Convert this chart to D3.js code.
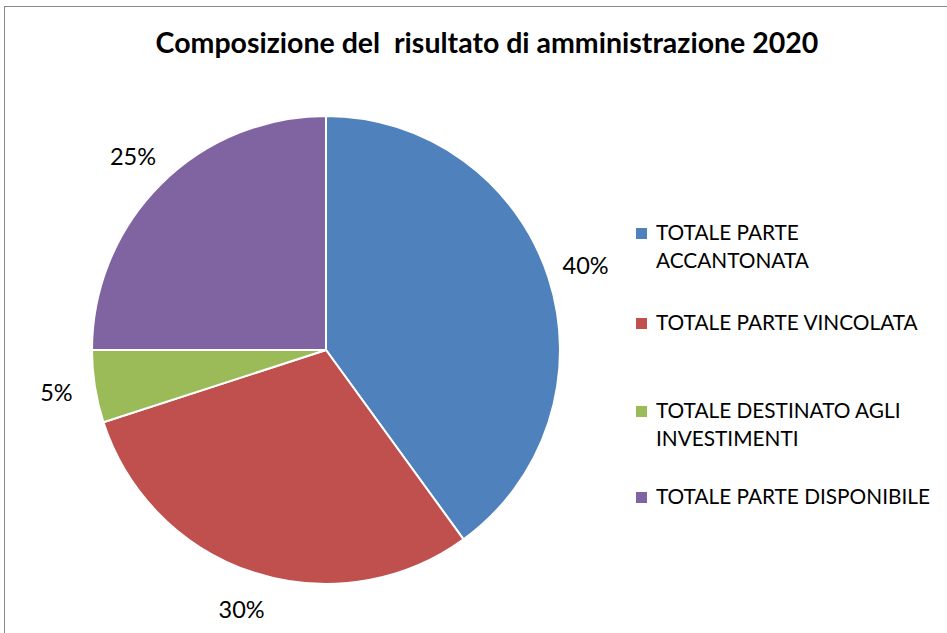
<!DOCTYPE html>
<html>
<head>
<meta charset="utf-8">
<script src="https://cdn.jsdelivr.net/npm/d3@7"></script>
<style>
  body { margin: 0; background: #fff; }
  text { font-family: Lato, "Open Sans", sans-serif; fill: #000; }
</style>
</head>
<body>
<svg width="947" height="633"></svg>
<script>
  // data
  var categories = ["TOTALE PARTE ACCANTONATA", "TOTALE PARTE VINCOLATA", "TOTALE DESTINATO AGLI INVESTIMENTI", "TOTALE PARTE DISPONIBILE"];
  var legendLines = [["TOTALE PARTE", "ACCANTONATA"], ["TOTALE PARTE VINCOLATA"], ["TOTALE DESTINATO AGLI", "INVESTIMENTI"], ["TOTALE PARTE DISPONIBILE"]];
  var values = [40, 30, 5, 25];
  var colors = ["#4F81BD", "#C0504D", "#9BBB59", "#8064A2"];

  var svg = d3.select("svg");
  var width = +svg.attr("width");
  var height = +svg.attr("height");

  // chart border (cut off at right / bottom like the screenshot)
  svg.append("rect")
    .attr("x", 4.5).attr("y", 6.5)
    .attr("width", width + 10).attr("height", height + 10)
    .attr("fill", "none").attr("stroke", "#888").attr("stroke-width", 1);

  svg.append("text")
    .attr("x", 487).attr("y", 53)
    .attr("text-anchor", "middle")
    .attr("xml:space", "preserve")
    .style("font-size", "28.5px").style("font-weight", "bold")
    .text("Composizione del  risultato di amministrazione 2020");

  var cx = 326, cy = 350, radius = 234;
  var total = d3.sum(values);
  var pie = d3.pie().sort(null).value(function(d) { return d; });
  var arc = d3.arc().innerRadius(0).outerRadius(radius);
  var labelArc = d3.arc().innerRadius(273).outerRadius(273);

  var g = svg.append("g").attr("transform", "translate(" + cx + "," + cy + ")");
  var arcs = pie(values);

  g.selectAll("path")
    .data(arcs)
    .enter()
    .append("path")
    .attr("d", arc)
    .attr("fill", function(d, i) { return colors[i]; })
    .attr("stroke", "#fff")
    .attr("stroke-width", 2);

  g.selectAll("text.lbl")
    .data(arcs)
    .enter()
    .append("text")
    .attr("class", "lbl")
    .attr("transform", function(d) { return "translate(" + labelArc.centroid(d) + ")"; })
    .attr("text-anchor", "middle")
    .attr("dy", "0.35em")
    .style("font-size", "23.5px")
    .text(function(d) { return Math.round(d.value / total * 100) + "%"; });

  // legend
  var legendY = [240, 330, 418, 504];
  var legend = svg.append("g").selectAll("g")
    .data(categories)
    .enter()
    .append("g")
    .attr("transform", function(d, i) { return "translate(636," + legendY[i] + ")"; });

  legend.append("rect")
    .attr("x", 0).attr("y", -12)
    .attr("width", 11).attr("height", 11)
    .attr("fill", function(d, i) { return colors[i]; });

  legend.append("text")
    .style("font-size", "20.8px")
    .selectAll("tspan")
    .data(function(d, i) { return legendLines[i]; })
    .enter()
    .append("tspan")
    .attr("x", 20)
    .attr("y", function(d, j) { return j * 28; })
    .text(function(d) { return d; });
</script>
</body>
</html>
